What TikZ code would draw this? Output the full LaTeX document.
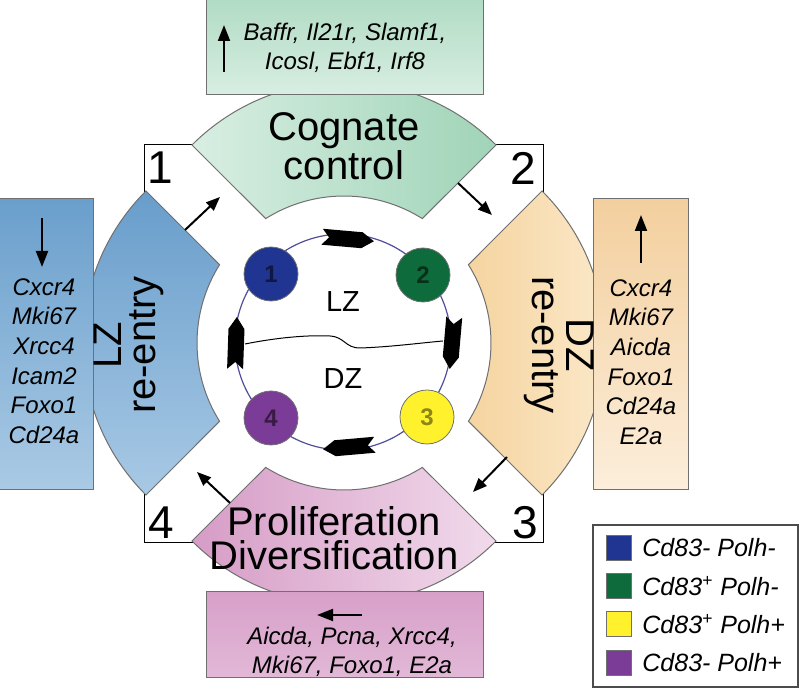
\documentclass[tikz,border=0pt]{standalone}
\usepackage{fontspec}
\setmainfont{Liberation Sans}
\usepackage{xcolor}
\usetikzlibrary{arrows.meta,calc}

\definecolor{cellone}{HTML}{1F3591}
\definecolor{celltwo}{HTML}{0E6B3B}
\definecolor{cellthree}{HTML}{FFF22D}
\definecolor{cellfour}{HTML}{7B3C98}
\definecolor{rim}{HTML}{707070}

% one ring sector, #1 = direction of its middle
\newcommand{\zonepath}[1]{($(O)+(#1:46)+(#1-45:215)$) arc[start angle=#1-45, end angle=#1+45, radius=215] -- ($(O)+(#1+32.2:147)$) arc[start angle=#1+32.2, end angle=#1-32.2, radius=147] -- cycle}

\begin{document}
\begin{tikzpicture}[x=0.5pt,y=-0.5pt,
    rimline/.style={draw=rim,line width=0.5pt},
    genes/.style={font=\itshape\fontsize{12}{14.8}\selectfont,align=center,inner sep=0pt},
    zone/.style={font=\fontsize{20}{17}\selectfont,align=center,inner sep=0pt},
    corner/.style={font=\fontsize{23}{23}\selectfont,inner sep=0pt},
    flow/.style={-{Triangle[length=7pt,width=5.5pt]},line width=1pt},
    trend/.style={-{Triangle[length=8pt,width=6pt]},line width=1pt},
    cell/.style={circle,draw=rim,line width=0.4pt,minimum size=27pt,inner sep=0pt,font=\bfseries\fontsize{12}{12}\selectfont},
    key/.style={draw=rim,line width=0.4pt,minimum size=12.5pt,inner sep=0pt},
    keytext/.style={anchor=west,font=\itshape\fontsize{12.5}{12.5}\selectfont,inner sep=0pt}]
  \useasboundingbox (0,0) rectangle (800,689);
  \coordinate (O) at (344,343);

  % frame and the four stages
  \draw[fill=white,line width=0.5pt] (144,145) rectangle (543,543);
  \path[rimline,left color={rgb,255:red,216;green,238;blue,226},right color={rgb,255:red,160;green,212;blue,184}] \zonepath{270};
  \path[rimline,left color={rgb,255:red,245;green,212;blue,160},right color={rgb,255:red,252;green,235;blue,206}] \zonepath{0};
  \path[rimline,left color={rgb,255:red,214;green,156;blue,198},right color={rgb,255:red,241;green,218;blue,235}] \zonepath{90};
  \path[rimline,top color={rgb,255:red,104;green,157;blue,203},bottom color={rgb,255:red,168;green,201;blue,229}] \zonepath{180};

  % gene boxes
  \draw[rimline,top color={rgb,255:red,176;green,219;blue,195},bottom color={rgb,255:red,216;green,238;blue,226}] (206,-3) rectangle (483,95);
  \draw[rimline,top color={rgb,255:red,106;green,159;blue,204},bottom color={rgb,255:red,170;green,202;blue,229}] (-3,199) rectangle (93,490);
  \draw[rimline,top color={rgb,255:red,243;green,207;blue,158},bottom color={rgb,255:red,252;green,238;blue,219}] (593,199) rectangle (688,490);
  \draw[rimline,top color={rgb,255:red,215;green,160;blue,201},bottom color={rgb,255:red,226;green,184;blue,215}] (206,592) rectangle (483,678);

  \node[genes] (upgenes) at (345,48) {Baffr, Il21r, Slamf1,\\Icosl, Ebf1, Irf8};
  \node[genes] (lzgenes) at (44,361) {Cxcr4\\Mki67\\Xrcc4\\Icam2\\Foxo1\\Cd24a};
  \node[genes] (dzgenes) at (641,362) {Cxcr4\\Mki67\\Aicda\\Foxo1\\Cd24a\\E2a};
  \node[genes] (pdgenes) at (352,652) {Aicda, Pcna, Xrcc4,\\Mki67, Foxo1, E2a};

  \coordinate (upa) at (224,72);  \coordinate (upb) at (224,25);
  \coordinate (lza) at (42,218);  \coordinate (lzb) at (42,267);
  \coordinate (dza) at (641,263); \coordinate (dzb) at (641,215);
  \coordinate (pda) at (362,615); \coordinate (pdb) at (317,615);
  \draw[trend] (upa) -- (upb);
  \draw[trend] (lza) -- (lzb);
  \draw[trend] (dza) -- (dzb);
  \draw[trend] (pda) -- (pdb);

  % stage names and numbers
  \node[zone] (cog) at (344,146) {Cognate\\control};
  \node[zone,rotate=90] (lzre) at (129,345) {LZ\\re-entry};
  \node[zone,rotate=-90] (dzre) at (559,345) {DZ\\re-entry};
  \node[zone] (prolif) at (334,538) {Proliferation\\Diversification};
  \node[corner] (n1) at (160,168) {1};
  \node[corner] (n2) at (523,168) {2};
  \node[corner] (n3) at (525,523) {3};
  \node[corner] (n4) at (161,523) {4};

  \coordinate (f1a) at (185,230); \coordinate (f1b) at (220,197);
  \coordinate (f2a) at (458,183); \coordinate (f2b) at (492,215);
  \coordinate (f3a) at (507,457); \coordinate (f3b) at (473,492);
  \coordinate (f4a) at (230,503); \coordinate (f4b) at (197,472);
  \draw[flow] (f1a) -- (f1b);
  \draw[flow] (f2a) -- (f2b);
  \draw[flow] (f3a) -- (f3b);
  \draw[flow] (f4a) -- (f4b);

  % germinal centre cycle
  \draw[draw=rim!70!blue,line width=0.6pt] (343,342) circle[radius=108];
  \draw[line width=0.5pt] (245,344) .. controls (280,337) and (310,335) .. (330,336)
    .. controls (345,337) and (345,348) .. (360,348) .. controls (390,347) and (420,343) .. (443,341);
  \foreach \px/\py/\rot in {348/239/-5, 452/343/-95, 349/447/185, 236/343/88}
    \fill[shift={(\px,\py)},rotate=\rot] (-26,-8) -- (14,-8) -- (26,0) -- (14,8) -- (-26,8) -- (-19,0) -- cycle;
  \node[font=\fontsize{14.5}{14.5}\selectfont] (lz) at (343,302) {LZ};
  \node[font=\fontsize{14.5}{14.5}\selectfont] (dz) at (343,379) {DZ};
  \node[cell,fill=cellone,text=black!55!cellone] (c1) at (271,274) {1};
  \node[cell,fill=celltwo,text=black!55!celltwo] (c2) at (423,275) {2};
  \node[cell,fill=cellthree,text=black!45!cellthree] (c3) at (427,417) {3};
  \node[cell,fill=cellfour,text=black!55!cellfour] (c4) at (271,418) {4};

  % legend
  \draw[draw=black!70,line width=0.6pt] (593,525) rectangle (798,687);
  \node[key,fill=cellone] (k1) at (618.5,548) {};
  \node[key,fill=celltwo] (k2) at (618.5,586) {};
  \node[key,fill=cellthree] (k3) at (618.5,624) {};
  \node[key,fill=cellfour] (k4) at (618.5,663) {};
  \node[keytext] (t1) at (642,548) {Cd83- Polh-};
  \node[keytext] (t2) at (642,586) {Cd83\textsuperscript{+} Polh-};
  \node[keytext] (t3) at (642,624) {Cd83\textsuperscript{+} Polh+};
  \node[keytext] (t4) at (642,663) {Cd83- Polh+};
\end{tikzpicture}
\end{document}
